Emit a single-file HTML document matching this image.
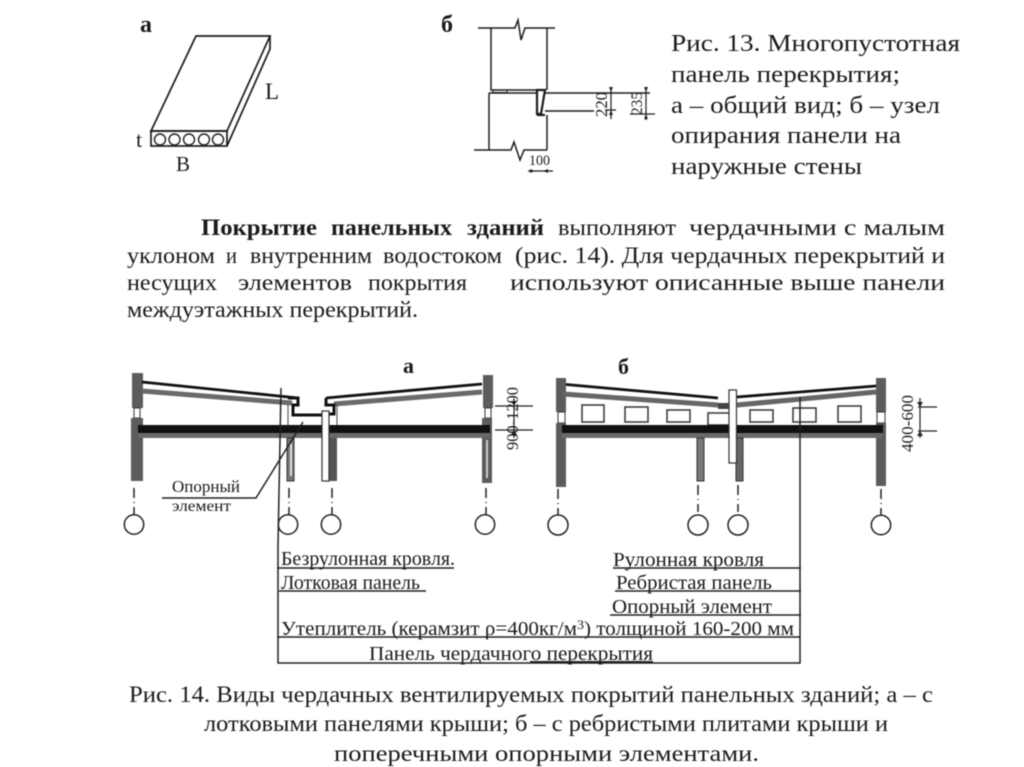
<!DOCTYPE html>
<html><head><meta charset="utf-8"><style>
html,body{margin:0;padding:0;background:#fff}
svg{display:block;filter:blur(0.45px)}
text{font-family:"Liberation Serif","DejaVu Serif",serif;fill:#1a1a1a}
.c{font-size:24px}.p{font-size:23px}.l{font-size:19.500px}
</style></head><body>
<svg width="1024" height="767" viewBox="0 0 1024 767" xmlns="http://www.w3.org/2000/svg">
<rect width="1024" height="767" fill="#fff"/>

<!-- Fig 13a -->
<text x="140" y="32" font-size="24" font-weight="bold">а</text>
<g fill="none" stroke="#1c1c1c" stroke-width="1.700">
<path d="M151 131 L196 36 H270 L227 131 Z"/>
<rect x="151" y="131" width="76" height="15"/>
<path d="M270 36 V49 L227 146"/>
</g>
<g fill="none" stroke="#222" stroke-width="1.400">
<circle cx="160" cy="139.500" r="5.500"/><circle cx="174.500" cy="139.500" r="5.500"/><circle cx="189" cy="139.500" r="5.500"/><circle cx="204" cy="139.500" r="5.500"/><circle cx="218" cy="139.500" r="5.500"/>
</g>
<text x="136" y="147" font-size="22">t</text>
<text x="176" y="171" font-size="21">B</text>
<text x="265" y="99" font-size="23">L</text>

<!-- Fig 13b -->
<text x="441" y="32" font-size="24" font-weight="bold">б</text>
<g fill="none" stroke="#1c1c1c" stroke-width="1.500">
<path d="M478 28 H515 L518 20 L521 40 L525 28 H555"/>
<path d="M491 28 V90 H537"/>
<path d="M547 28 V90"/>
<path d="M489 93 V150"/>
<path d="M489 93 H537"/>
<path d="M474 150 H511 L514 142 L520 160 L524 150 H547"/>
<path d="M547 115 V150"/>
<path d="M545 93 H650"/>
<path d="M545 111 H594"/>
<path d="M537 90 H545 L541 114 H537 Z" stroke-width="2.200"/>
<path d="M537 115 H545" stroke-width="2.200"/>
<rect x="493" y="90" width="14" height="2.500" stroke-width="1"/>
<path d="M528 171 H553" stroke-width="1.300"/>
<path d="M611 88 V119 M605 110 H616 M646 90 V120 M630 114 H655" stroke-width="1.200"/>
</g>
<text x="529" y="165" font-size="15" textLength="21" lengthAdjust="spacingAndGlyphs">100</text>
<text transform="translate(607 117) rotate(-90)" font-size="17" textLength="25" lengthAdjust="spacingAndGlyphs">220</text>
<text transform="translate(642 115) rotate(-90)" font-size="16" textLength="23" lengthAdjust="spacingAndGlyphs">235</text>
<path d="M535 171 L530 169 V173 Z M543 171 L548 169 V173 Z M611 92 L609 87 H613 Z M611 110 L609 115 H613 Z M646 92 L644 87 H648 Z M646 114 L644 119 H648 Z" fill="#222"/>

<!-- Fig 13 caption -->
<text class="c" x="671" y="51" textLength="289" lengthAdjust="spacingAndGlyphs">Рис. 13. Многопустотная</text>
<text class="c" x="671" y="82" textLength="229" lengthAdjust="spacingAndGlyphs">панель перекрытия;</text>
<text class="c" x="671" y="113" textLength="269" lengthAdjust="spacingAndGlyphs">а – общий вид; б – узел</text>
<text class="c" x="671" y="143" textLength="230" lengthAdjust="spacingAndGlyphs">опирания панели на</text>
<text class="c" x="671" y="174" textLength="191" lengthAdjust="spacingAndGlyphs">наружные стены</text>

<!-- Paragraph -->
<g font-weight="bold">
<text class="p" x="201" y="235" textLength="116" lengthAdjust="spacingAndGlyphs">Покрытие</text>
<text class="p" x="331" y="235" textLength="121" lengthAdjust="spacingAndGlyphs">панельных</text>
<text class="p" x="467" y="235" textLength="77" lengthAdjust="spacingAndGlyphs">зданий</text>
</g>
<text class="p" x="558" y="235" textLength="118" lengthAdjust="spacingAndGlyphs">выполняют</text>
<text class="p" x="689" y="235" textLength="256" lengthAdjust="spacingAndGlyphs">чердачными с малым</text>
<text class="p" x="127" y="263" textLength="88" lengthAdjust="spacingAndGlyphs">уклоном</text>
<text class="p" x="226" y="263" textLength="11" lengthAdjust="spacingAndGlyphs">и</text>
<text class="p" x="250" y="263" textLength="122" lengthAdjust="spacingAndGlyphs">внутренним</text>
<text class="p" x="383" y="263" textLength="119" lengthAdjust="spacingAndGlyphs">водостоком</text>
<text class="p" x="515" y="263" textLength="430" lengthAdjust="spacingAndGlyphs">(рис. 14). Для чердачных перекрытий и</text>
<text class="p" x="127" y="290" textLength="90" lengthAdjust="spacingAndGlyphs">несущих</text>
<text class="p" x="238" y="290" textLength="114" lengthAdjust="spacingAndGlyphs">элементов</text>
<text class="p" x="368" y="290" textLength="99" lengthAdjust="spacingAndGlyphs">покрытия</text>
<text class="p" x="510" y="290" textLength="435" lengthAdjust="spacingAndGlyphs">используют описанные выше панели</text>
<text class="p" x="127" y="317" textLength="291" lengthAdjust="spacingAndGlyphs">междуэтажных перекрытий.</text>

<!-- Fig 14a -->
<text x="403" y="373" font-size="22" font-weight="bold">а</text>
<g>
<rect x="132" y="373" width="11" height="35" fill="#5c5c5c"/>
<rect x="134" y="408" width="6" height="10" fill="#fff" stroke="#333"/>
<rect x="131" y="418" width="12" height="63" fill="#5c5c5c"/>
<rect x="483" y="375" width="10" height="33" fill="#5c5c5c"/>
<rect x="485" y="408" width="6" height="10" fill="#fff" stroke="#333"/>
<rect x="482" y="418" width="10" height="65" fill="#5c5c5c"/>
<rect x="486" y="440" width="2" height="38" fill="#ccc"/>
<path d="M142 382 L298 398" stroke="#111" stroke-width="2.800" fill="none"/>
<path d="M142 391 L292 403" stroke="#6a6a6a" stroke-width="5" fill="none"/>
<path d="M482 384 L326 398" stroke="#111" stroke-width="2.800" fill="none"/>
<path d="M482 392 L334 404" stroke="#6a6a6a" stroke-width="5" fill="none"/>
<path d="M288 398 H298 V405 H293 V415 H323" fill="none" stroke="#111" stroke-width="3"/>
<path d="M326 398 V405 H334 V414 H329" fill="none" stroke="#111" stroke-width="3"/>
<rect x="138" y="425" width="352" height="8" fill="#111"/>
<rect x="138" y="433" width="352" height="5" fill="#6a6a6a"/>
<path d="M287 438 H294 V481 H287 Z" fill="#777" stroke="#333"/>
<rect x="290" y="444" width="2" height="32" fill="#ddd"/>
<rect x="329" y="438" width="8" height="43" fill="#555"/>
<path d="M337 405 V425 M288 405 V425" stroke="#444" stroke-width="1"/>
<rect x="322" y="411" width="7" height="70" fill="#fff" stroke="#333" stroke-width="1.200"/>
</g>
<g fill="none" stroke="#222" stroke-width="1.500">
<path d="M134 488 V515" stroke-dasharray="10 4 1 4 8"/>
<path d="M289 488 V515" stroke-dasharray="10 4 1 4 8"/>
<path d="M332 488 V515" stroke-dasharray="10 4 1 4 8"/>
<path d="M486 488 V515" stroke-dasharray="10 4 1 4 8"/>
<circle cx="134" cy="524.500" r="9.700" fill="#fff"/>
<circle cx="288" cy="524.500" r="9.700" fill="#fff"/>
<circle cx="331" cy="524.500" r="9.700" fill="#fff"/>
<circle cx="485" cy="524.500" r="9.700" fill="#fff"/>
<path d="M281 388 L278 545"/>
<path d="M303 422 L256 498 H162"/>
<path d="M495 406 H533 M495 430 H533 M514 398 V438" stroke-width="1.200"/>
</g>
<path d="M514 406 L511 401 H517 Z M514 430 L511 435 H517 Z" fill="#222"/>
<text x="172" y="492" font-size="17" textLength="68" lengthAdjust="spacingAndGlyphs">Опорный</text>
<text x="172" y="511" font-size="16" textLength="59" lengthAdjust="spacingAndGlyphs">элемент</text>
<text transform="translate(518 450) rotate(-90)" font-size="17" textLength="63" lengthAdjust="spacingAndGlyphs" fill="#333">900-1200</text>

<!-- Fig 14b -->
<text x="618" y="374" font-size="22" font-weight="bold">б</text>
<g>
<rect x="556" y="378" width="10" height="34" fill="#5c5c5c"/>
<rect x="558" y="412" width="7" height="11" fill="#fff" stroke="#333"/>
<rect x="556" y="423" width="10" height="64" fill="#5c5c5c"/>
<rect x="876" y="378" width="10" height="34" fill="#5c5c5c"/>
<rect x="877" y="412" width="8" height="11" fill="#fff" stroke="#333"/>
<rect x="876" y="423" width="10" height="63" fill="#5c5c5c"/>
<path d="M566 384.500 L718 398" stroke="#111" stroke-width="2.800" fill="none"/>
<path d="M563 394 L718 405" stroke="#666" stroke-width="5" fill="none"/>
<path d="M876 386 L737 397" stroke="#111" stroke-width="2.800" fill="none"/>
<path d="M876 392 L737 405" stroke="#666" stroke-width="5" fill="none"/>
<path d="M718 403 H732 V409 H718 Z" fill="#444"/>
<g fill="#fff" stroke="#333" stroke-width="1.500">
<rect x="582" y="405" width="22" height="17"/>
<rect x="625" y="407" width="23" height="15"/>
<rect x="667" y="410" width="23" height="12"/>
<rect x="708" y="413" width="22" height="12"/>
<rect x="750" y="410" width="23" height="12"/>
<rect x="793" y="408" width="23" height="14"/>
<rect x="838" y="406" width="23" height="16"/>
</g>
<rect x="562" y="425" width="321" height="8" fill="#111"/>
<rect x="562" y="433" width="320" height="5" fill="#6a6a6a"/>
<rect x="697" y="438" width="7" height="43" fill="#777" stroke="#333"/>
<rect x="736" y="438" width="7" height="43" fill="#666" stroke="#333"/>
<rect x="729" y="390" width="7.500" height="73" fill="#fff" stroke="#333" stroke-width="1.200"/>
</g>
<g fill="none" stroke="#222" stroke-width="1.500">
<path d="M558 489 V515" stroke-dasharray="10 4 1 4 8"/>
<path d="M698 485 V515" stroke-dasharray="10 4 1 4 8"/>
<path d="M738 485 V515" stroke-dasharray="10 4 1 4 8"/>
<path d="M881 489 V515" stroke-dasharray="10 4 1 4 8"/>
<circle cx="558" cy="525" r="10" fill="#fff"/>
<circle cx="698" cy="525" r="10" fill="#fff"/>
<circle cx="738" cy="525" r="10" fill="#fff"/>
<circle cx="881" cy="525" r="9.700" fill="#fff"/>
<path d="M800 397 V565"/>
<path d="M918 407 H937 M918 431 H937 M920 398 V438" stroke-width="1.200"/>
</g>
<path d="M920 407 L917 402 H923 Z M920 431 L917 436 H923 Z" fill="#222"/>
<text transform="translate(913 452) rotate(-90)" font-size="17" textLength="57" lengthAdjust="spacingAndGlyphs" fill="#333">400-600</text>

<!-- Leader table -->
<g fill="none" stroke="#222" stroke-width="1.500">
<path d="M278 545 V663 H800 V565"/>
<path d="M277 568 H454"/>
<path d="M279 591 H426"/>
<path d="M613 568 H801"/>
<path d="M615 591 H801"/>
<path d="M610 615 H801"/>
<path d="M277 637 H800"/>
<path d="M530 662 H653" stroke-width="2"/>
</g>
<text class="l" x="281" y="565" textLength="174" lengthAdjust="spacingAndGlyphs">Безрулонная кровля.</text>
<text class="l" x="281" y="589" textLength="139" lengthAdjust="spacingAndGlyphs">Лотковая панель</text>
<text class="l" x="613" y="566" textLength="151" lengthAdjust="spacingAndGlyphs">Рулонная кровля</text>
<text class="l" x="616" y="589" textLength="156" lengthAdjust="spacingAndGlyphs">Ребристая панель</text>
<text class="l" x="612" y="613" textLength="160" lengthAdjust="spacingAndGlyphs">Опорный элемент</text>
<text class="l" x="281" y="635" textLength="513" lengthAdjust="spacingAndGlyphs">Утеплитель (керамзит ρ=400кг/м<tspan font-size="13" dy="-6">3</tspan><tspan dy="6">) толщиной 160-200 мм</tspan></text>
<text class="l" x="369" y="660" textLength="284" lengthAdjust="spacingAndGlyphs">Панель чердачного перекрытия</text>

<!-- Fig 14 caption -->
<text class="p" x="129" y="702" textLength="804" lengthAdjust="spacingAndGlyphs">Рис. 14. Виды чердачных вентилируемых покрытий панельных зданий; а –  с</text>
<text class="p" x="204" y="731" textLength="684" lengthAdjust="spacingAndGlyphs">лотковыми панелями крыши;  б – с ребристыми плитами крыши и</text>
<text class="p" x="334" y="761" textLength="425" lengthAdjust="spacingAndGlyphs">поперечными опорными элементами.</text>
</svg>
</body></html>
